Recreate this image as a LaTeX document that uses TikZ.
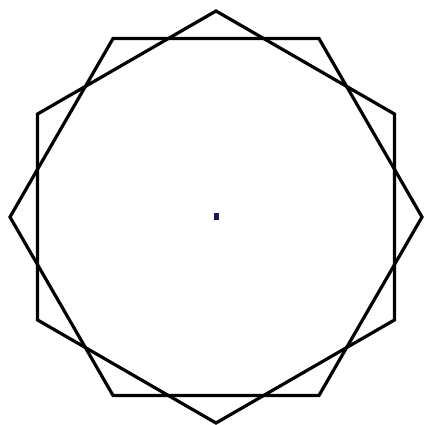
\documentclass[tikz,border=0pt]{standalone}
\usetikzlibrary{calc}
\definecolor{dotblue}{RGB}{30,20,90}
\begin{document}
\begin{tikzpicture}[x=1pt,y=1pt,hexline/.style={draw=black,line width=3.2pt,line join=miter}]
\useasboundingbox (0,0) rectangle (425,425);
\fill[white] (0,0) rectangle (425,425);
\coordinate (c) at (216,208);
% flat-top hexagon
\draw[hexline] ($(c)+(0:206)$) \foreach \a in {60,120,...,300} { -- ($(c)+(\a:206)$) } -- cycle;
% pointy-top hexagon
\draw[hexline] ($(c)+(30:206)$) \foreach \a in {90,150,...,330} { -- ($(c)+(\a:206)$) } -- cycle;
\fill[dotblue] ($(c)+(-2.5,-3.5)$) rectangle ($(c)+(2.5,3.5)$);
\end{tikzpicture}
\end{document}
